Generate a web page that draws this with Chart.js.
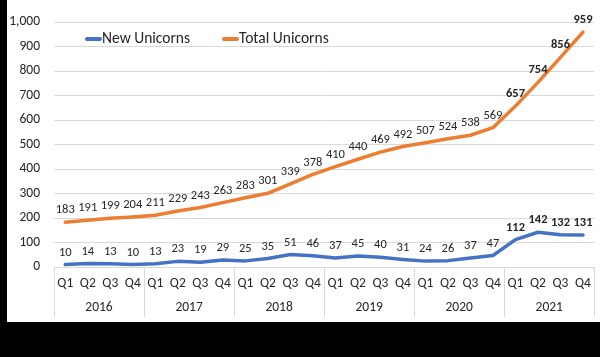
<!DOCTYPE html>
<html><head><meta charset="utf-8">
<script src="https://cdn.jsdelivr.net/npm/chart.js@4"></script>
<style>
html,body{margin:0;padding:0;background:#000;width:600px;height:357px;overflow:hidden}
#wrap{position:absolute;left:7px;top:0;width:593px;height:322px;background:#fff}
canvas{display:block}
</style></head>
<body><div id="wrap"><canvas id="c" width="593" height="322"></canvas></div>
<script>
const years = ['2016', '2017', '2018', '2019', '2020', '2021'];
const quarters = ['Q1', 'Q2', 'Q3', 'Q4'];
const newUnicorns = [10, 14, 13, 10, 13, 23, 19, 29, 25, 35, 51, 46, 37, 45, 40, 31, 24, 26, 37, 47, 112, 142, 132, 131];
const totalUnicorns = [183, 191, 199, 204, 211, 229, 243, 263, 283, 301, 339, 378, 410, 440, 469, 492, 507, 524, 538, 569, 657, 754, 856, 959];
const yTicksMax = 1000;
const yTicksStep = 100;

const labels = [];
years.forEach(y => quarters.forEach(q => labels.push(q)));
const boldFrom = labels.length - 4;
const FONT = 'Carlito, Calibri, Lato, sans-serif';
const TXT = '#262626';

const extras = {
  id: 'extras',
  afterDatasetsDraw(chart) {
    const ctx = chart.ctx;
    ctx.save();
    ctx.textAlign = 'center';
    ctx.textBaseline = 'middle';
    ctx.fillStyle = TXT;
    chart.data.datasets.forEach((ds, i) => {
      const meta = chart.getDatasetMeta(i);
      meta.data.forEach((pt, j) => {
        ctx.font = (j >= boldFrom ? 'bold ' : '') + '12.5px ' + FONT;
        ctx.fillText(String(ds.data[j]), pt.x, pt.y - 12);
      });
    });
    ctx.restore();
  },
  afterDraw(chart) {
    const ctx = chart.ctx;
    const xs = chart.scales.x;
    const area = chart.chartArea;
    const half = (xs.getPixelForValue(1) - xs.getPixelForValue(0)) / 2;
    ctx.save();
    ctx.strokeStyle = '#d9d9d9';
    ctx.lineWidth = 1;
    for (let k = 0; k <= years.length; k++) {
      const x = k < years.length ? xs.getPixelForValue(k * 4) - half : xs.getPixelForValue(labels.length - 1) + half;
      const xx = Math.round(x) + 0.5;
      ctx.beginPath();
      ctx.moveTo(xx, area.bottom);
      ctx.lineTo(xx, area.bottom + 50);
      ctx.stroke();
    }
    ctx.fillStyle = TXT;
    ctx.font = '13.5px ' + FONT;
    ctx.textAlign = 'center';
    ctx.textBaseline = 'middle';
    years.forEach((y, k) => {
      const cx = (xs.getPixelForValue(k * 4) + xs.getPixelForValue(k * 4 + 3)) / 2;
      ctx.fillText(y, cx, area.bottom + 41);
    });
    // legend
    const items = [
      {text: chart.data.datasets[0].label, color: chart.data.datasets[0].borderColor, x: 79},
      {text: chart.data.datasets[1].label, color: chart.data.datasets[1].borderColor, x: 216}
    ];
    ctx.font = '15.5px ' + FONT;
    ctx.textAlign = 'left';
    items.forEach(it => {
      ctx.strokeStyle = it.color;
      ctx.lineWidth = 4;
      ctx.lineCap = 'round';
      ctx.beginPath();
      ctx.moveTo(it.x + 1, 39);
      ctx.lineTo(it.x + 14, 39);
      ctx.stroke();
      ctx.fillText(it.text, it.x + 16, 39);
    });
    ctx.restore();
  }
};

new Chart(document.getElementById('c'), {
  type: 'line',
  data: {
    labels: labels,
    datasets: [
      {label: 'New Unicorns', data: newUnicorns, borderColor: '#4472C4', backgroundColor: '#4472C4', borderWidth: 3.5, pointRadius: 0, tension: 0, borderJoinStyle: 'round', borderCapStyle: 'round'},
      {label: 'Total Unicorns', data: totalUnicorns, borderColor: '#ED7D31', backgroundColor: '#ED7D31', borderWidth: 3.5, pointRadius: 0, tension: 0, borderJoinStyle: 'round', borderCapStyle: 'round'}
    ]
  },
  options: {
    responsive: false,
    devicePixelRatio: 1,
    animation: false,
    layout: {padding: {top: 14, right: 2, left: 0, bottom: 0}},
    plugins: {legend: {display: false}, tooltip: {enabled: false}},
    scales: {
      x: {
        type: 'category',
        offset: true,
        grid: {display: false, drawTicks: false},
        border: {display: false},
        ticks: {color: TXT, font: {family: FONT, size: 13.5}, padding: 9, maxRotation: 0, autoSkip: false},
        afterFit: s => { s.height = 55; }
      },
      y: {
        min: 0, max: yTicksMax,
        grid: {color: '#d9d9d9', lineWidth: 1, drawTicks: false},
        border: {display: false},
        ticks: {stepSize: yTicksStep, color: TXT, font: {family: FONT, size: 13.5}, padding: 14},
        afterFit: s => { s.width = 47; }
      }
    }
  },
  plugins: [extras]
});
</script>
</body></html>
